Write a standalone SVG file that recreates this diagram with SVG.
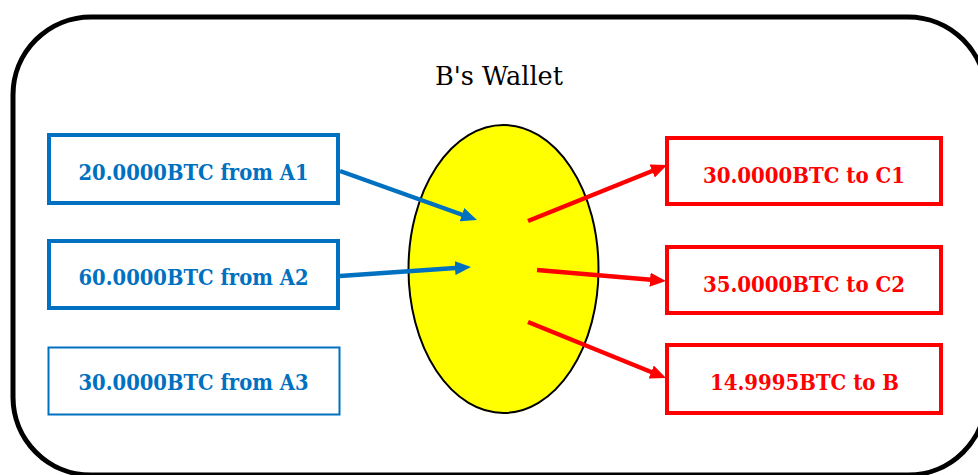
<svg xmlns="http://www.w3.org/2000/svg" width="978" height="475" viewBox="0 0 978 475">
<style>
.lbl{font-family:"DejaVu Serif","Liberation Serif",serif;font-weight:bold;font-size:22px;text-anchor:middle}
.blue{fill:#0070C0}
.red{fill:#FF0000}
.bbox{fill:#fff;stroke:#0070C0}
.rbox{fill:#fff;stroke:#FF0000;stroke-width:4}
.bline{stroke:#0070C0;stroke-width:4.5;fill:none}
.rline{stroke:#FF0000;stroke-width:4.5;fill:none}
.title{font-family:"DejaVu Serif","Liberation Serif",serif;font-size:26px;text-anchor:middle;fill:#000}
</style>
<defs>
<marker id="ab" markerUnits="userSpaceOnUse" viewBox="0 -7 16 14" markerWidth="16" markerHeight="14" refX="4" refY="0" orient="auto"><path d="M0,-7 L16,0 L0,7 z" fill="#0070C0"/></marker>
<marker id="ar" markerUnits="userSpaceOnUse" viewBox="0 -7 16 14" markerWidth="16" markerHeight="14" refX="4" refY="0" orient="auto"><path d="M0,-7 L16,0 L0,7 z" fill="#FF0000"/></marker>
</defs>
<rect width="978" height="475" fill="#fff"/>
<g id="wallet">
<rect x="13" y="17" width="973" height="458" rx="78" ry="78" fill="none" stroke="#000" stroke-width="5"/>
<text class="title" x="499" y="85" textLength="128" lengthAdjust="spacingAndGlyphs">B's Wallet</text>
</g>
<g id="center">
<ellipse cx="503.5" cy="269" rx="95" ry="144" fill="#FFFF00" stroke="#000" stroke-width="2"/>
</g>
<g id="in1">
<rect class="bbox" x="49" y="135" width="289" height="68" stroke-width="4"/>
<text class="lbl blue" x="193.5" y="180" textLength="230" lengthAdjust="spacingAndGlyphs">20.0000BTC from A1</text>
</g>
<g id="in2">
<rect class="bbox" x="49" y="241" width="289" height="67" stroke-width="4"/>
<text class="lbl blue" x="193.5" y="285" textLength="230" lengthAdjust="spacingAndGlyphs">60.0000BTC from A2</text>
</g>
<g id="in3">
<rect class="bbox" x="48.5" y="347.5" width="291" height="67" stroke-width="2"/>
<text class="lbl blue" x="193.5" y="390" textLength="230" lengthAdjust="spacingAndGlyphs">30.0000BTC from A3</text>
</g>
<g id="out1">
<rect class="rbox" x="667" y="138" width="274" height="66"/>
<text class="lbl red" x="804" y="183" textLength="202" lengthAdjust="spacingAndGlyphs">30.0000BTC to C1</text>
</g>
<g id="out2">
<rect class="rbox" x="667" y="247" width="274" height="66"/>
<text class="lbl red" x="804" y="292" textLength="202" lengthAdjust="spacingAndGlyphs">35.0000BTC to C2</text>
</g>
<g id="out3">
<rect class="rbox" x="667" y="345" width="274" height="68"/>
<text class="lbl red" x="804.5" y="390" textLength="189" lengthAdjust="spacingAndGlyphs">14.9995BTC to B</text>
</g>
<g id="connectors">
<path class="bline" d="M340,171 L465.7,216" marker-end="url(#ab)"/>
<path class="bline" d="M340,276 L459,267.8" marker-end="url(#ab)"/>
<path class="rline" d="M528,221 L655.9,169.5" marker-end="url(#ar)"/>
<path class="rline" d="M537,270 L654,280" marker-end="url(#ar)"/>
<path class="rline" d="M528,322 L654.9,373.5" marker-end="url(#ar)"/>
</g>
</svg>
